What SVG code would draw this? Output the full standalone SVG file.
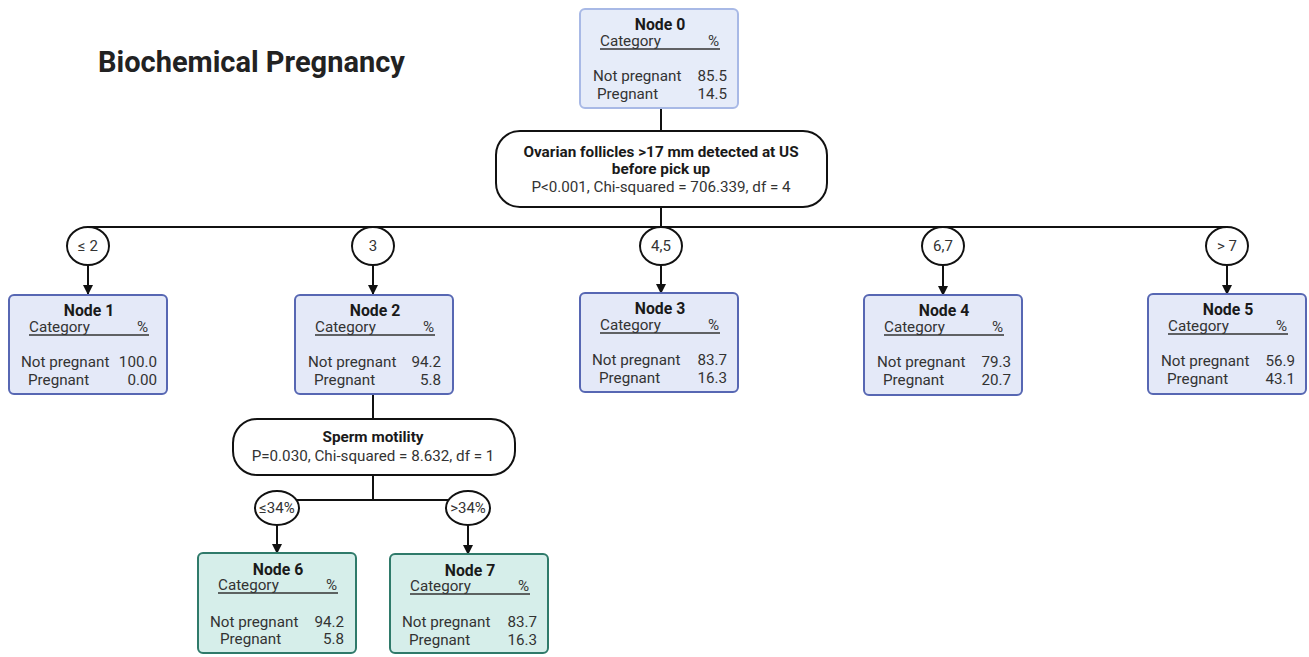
<svg xmlns="http://www.w3.org/2000/svg" width="1309" height="657" viewBox="0 0 1309 657">
<defs>
<style>
text{font-family:Roboto,"Liberation Sans",sans-serif;fill:#1a1a1a}
.t{font-size:15.8px;font-weight:bold;text-anchor:middle}
.s{font-size:15.3px;font-weight:bold;text-anchor:middle}
.r{font-size:15.2px;fill:#333}
.c{font-size:15px;fill:#333;text-anchor:middle}
.e{text-anchor:end}
.m{text-anchor:middle}
.box{fill:#e4e9f8;stroke:#5767b3;stroke-width:2}
.box0{fill:#e6ecf9;stroke:#a8b9e6;stroke-width:2}
.gbox{fill:#d6eeea;stroke:#2f7a6a;stroke-width:2}
.ul{stroke:#333;stroke-width:1.3}
.ln{stroke:#111;stroke-width:2;fill:none}
.split{fill:#fff;stroke:#111;stroke-width:2}
.circ{fill:#fff;stroke:#111;stroke-width:2}
</style>
<marker id="ah" markerWidth="10" markerHeight="10" refX="9" refY="5" orient="auto" markerUnits="userSpaceOnUse">
<path d="M0,0 L10,5 L0,10 Z" fill="#111"/>
</marker>
<g id="cat">
<text class="r" x="20" y="37">Category</text>
<text class="r e" x="139" y="37">%</text>
<line class="ul" x1="20" y1="40" x2="140" y2="40"/>
</g>
</defs>
<rect width="1309" height="657" fill="#fff"/>
<text x="98" y="72" style="font-size:29px;font-weight:bold;fill:#222">Biochemical Pregnancy</text>

<g id="connectors">
<line class="ln" x1="661" y1="108" x2="661" y2="131"/>
<line class="ln" x1="661" y1="207" x2="661" y2="227"/>
<line class="ln" x1="88" y1="227" x2="1227" y2="227"/>
<line class="ln" x1="88" y1="265" x2="88" y2="294" marker-end="url(#ah)"/>
<line class="ln" x1="373" y1="265" x2="373" y2="294" marker-end="url(#ah)"/>
<line class="ln" x1="661" y1="265" x2="661" y2="293" marker-end="url(#ah)"/>
<line class="ln" x1="943" y1="265" x2="943" y2="295" marker-end="url(#ah)"/>
<line class="ln" x1="1227" y1="265" x2="1227" y2="294" marker-end="url(#ah)"/>
<line class="ln" x1="373" y1="395" x2="373" y2="419"/>
<line class="ln" x1="373" y1="475" x2="373" y2="500"/>
<line class="ln" x1="277" y1="500" x2="468" y2="500"/>
<line class="ln" x1="277" y1="525" x2="277" y2="553" marker-end="url(#ah)"/>
<line class="ln" x1="468" y1="525" x2="468" y2="554" marker-end="url(#ah)"/>
<ellipse class="circ" cx="88" cy="246" rx="21" ry="19"/>
<text class="c" x="88" y="251">≤ 2</text>
<ellipse class="circ" cx="373" cy="246" rx="21" ry="19"/>
<text class="c" x="373" y="251">3</text>
<ellipse class="circ" cx="661" cy="246" rx="21" ry="19"/>
<text class="c" x="661" y="251">4,5</text>
<ellipse class="circ" cx="943" cy="246" rx="21" ry="19"/>
<text class="c" x="943" y="251">6,7</text>
<ellipse class="circ" cx="1227" cy="246" rx="21" ry="19"/>
<text class="c" x="1227" y="251">&gt; 7</text>
<ellipse class="circ" cx="277" cy="508" rx="22" ry="17"/>
<text class="c" x="277" y="513" style="font-size:15px">≤34%</text>
<ellipse class="circ" cx="468" cy="508" rx="22" ry="17"/>
<text class="c" x="468" y="513" style="font-size:15px">&gt;34%</text>
</g>

<g id="split1">
<rect class="split" x="496" y="131" width="331" height="76" rx="24"/>
<text class="s" x="661" y="157">Ovarian follicles &gt;17 mm detected at US</text>
<text class="s" x="661" y="174">before pick up</text>
<text class="r m" x="661" y="192">P&lt;0.001, Chi-squared = 706.339, df = 4</text>
</g>

<g id="split2">
<rect class="split" x="233" y="419" width="282" height="56" rx="24"/>
<text class="s" x="373" y="442">Sperm motility</text>
<text class="r m" x="373" y="461">P=0.030, Chi-squared = 8.632, df = 1</text>
</g>

<g id="node0" transform="translate(580,9)">
<rect class="box0" x="0" y="0" width="158" height="99" rx="5"/>
<text class="t" x="80" y="21">Node 0</text>
<use href="#cat"/>
<text class="r" x="13" y="72">Not pregnant</text><text class="r e" x="147" y="72">85.5</text>
<text class="r" x="17" y="90">Pregnant</text><text class="r e" x="147" y="90">14.5</text>
</g>

<g id="node1" transform="translate(9,295)">
<rect class="box" x="0" y="0" width="158" height="99" rx="5"/>
<text class="t" x="80" y="21">Node 1</text>
<use href="#cat"/>
<text class="r" x="12" y="72">Not pregnant</text><text class="r e" x="148" y="72">100.0</text>
<text class="r" x="19" y="90">Pregnant</text><text class="r e" x="148" y="90">0.00</text>
</g>

<g id="node2" transform="translate(295,295)">
<rect class="box" x="0" y="0" width="158" height="99" rx="5"/>
<text class="t" x="80" y="21">Node 2</text>
<use href="#cat"/>
<text class="r" x="13" y="72">Not pregnant</text><text class="r e" x="146" y="72">94.2</text>
<text class="r" x="19" y="90">Pregnant</text><text class="r e" x="146" y="90">5.8</text>
</g>

<g id="node3" transform="translate(580,293)">
<rect class="box" x="0" y="0" width="158" height="99" rx="5"/>
<text class="t" x="80" y="21">Node 3</text>
<use href="#cat"/>
<text class="r" x="12" y="72">Not pregnant</text><text class="r e" x="147" y="72">83.7</text>
<text class="r" x="19" y="90">Pregnant</text><text class="r e" x="147" y="90">16.3</text>
</g>

<g id="node4" transform="translate(864,295)">
<rect class="box" x="0" y="0" width="158" height="100" rx="5"/>
<text class="t" x="80" y="21">Node 4</text>
<use href="#cat"/>
<text class="r" x="13" y="72">Not pregnant</text><text class="r e" x="147" y="72">79.3</text>
<text class="r" x="19" y="90">Pregnant</text><text class="r e" x="147" y="90">20.7</text>
</g>

<g id="node5" transform="translate(1148,294)">
<rect class="box" x="0" y="0" width="158" height="100" rx="5"/>
<text class="t" x="80" y="21">Node 5</text>
<use href="#cat"/>
<text class="r" x="13" y="72">Not pregnant</text><text class="r e" x="147" y="72">56.9</text>
<text class="r" x="19" y="90">Pregnant</text><text class="r e" x="147" y="90">43.1</text>
</g>

<g id="node6" transform="translate(198,553)">
<rect class="gbox" x="0" y="0" width="158" height="100" rx="5"/>
<text class="t" x="80" y="22">Node 6</text>
<use href="#cat"/>
<text class="r" x="12" y="74">Not pregnant</text><text class="r e" x="146" y="74">94.2</text>
<text class="r" x="22" y="91">Pregnant</text><text class="r e" x="146" y="91">5.8</text>
</g>

<g id="node7" transform="translate(390,554)">
<rect class="gbox" x="0" y="0" width="158" height="99" rx="5"/>
<text class="t" x="80" y="22">Node 7</text>
<use href="#cat"/>
<text class="r" x="12" y="73">Not pregnant</text><text class="r e" x="147" y="73">83.7</text>
<text class="r" x="19" y="91">Pregnant</text><text class="r e" x="147" y="91">16.3</text>
</g>
</svg>
